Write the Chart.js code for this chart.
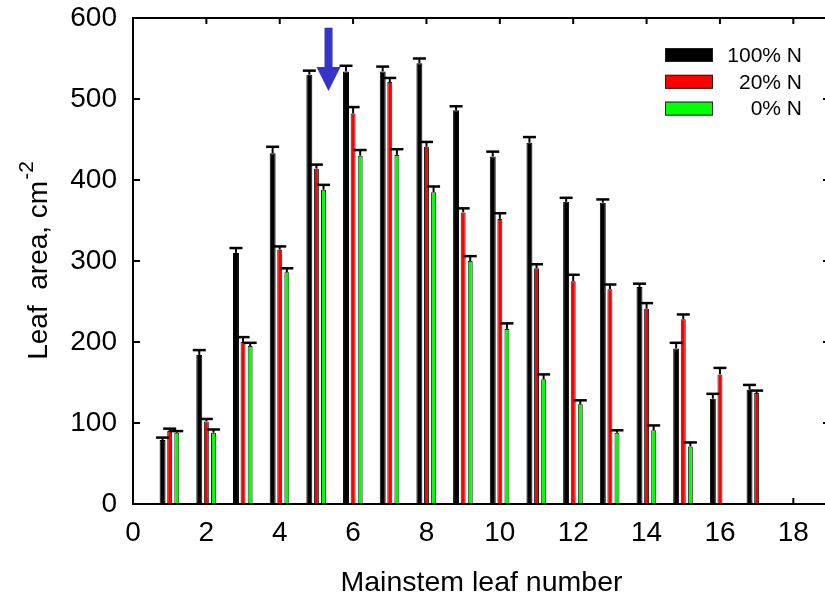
<!DOCTYPE html>
<html>
<head>
<meta charset="utf-8">
<script src="https://cdn.jsdelivr.net/npm/chart.js@4.4.1/dist/chart.umd.min.js"></script>
<style>
  html, body { margin: 0; padding: 0; background: #fff; overflow: hidden; }
  #wrap { width: 830px; height: 600px; }
</style>
</head>
<body>
<div id="wrap"><canvas id="leafChart" width="830" height="600"></canvas></div>
<script>
// DATA
const leafNumbers = [1, 2, 3, 4, 5, 6, 7, 8, 9, 10, 11, 12, 13, 14, 15, 16, 17];
const seriesLabels = ['100% N', '20% N', '0% N'];
const area100 = [79, 184, 310, 433, 530, 534, 534, 544, 486, 429, 446, 373, 372, 268, 192, 130, 141];
const err100  = [3, 6, 6, 8, 5, 7, 6, 6, 5, 6, 7, 5, 4, 4, 7, 6, 6];
const area20  = [90, 102, 200, 314, 414, 482, 521, 441, 360, 352, 291, 275, 265, 241, 228, 160, 137];
const err20   = [3, 3, 6, 4, 5, 8, 5, 6, 5, 7, 5, 8, 6, 7, 6, 8, 3];
const area0   = [88, 88, 195, 286, 388, 430, 431, 385, 300, 216, 154, 123, 88, 91, 71, null, null];
const err0    = [2, 4, 4, 5, 6, 7, 7, 7, 6, 7, 6, 5, 3, 6, 5, null, null];
const xTicks = [0, 2, 4, 6, 8, 10, 12, 14, 16, 18];
const yTicks = [0, 100, 200, 300, 400, 500, 600];
// blue arrow marker (leaf number, from value, to value)
const arrowX = 5.33;
const arrowFrom = 588;
const arrowTo = 510;

const FONT = "'Liberation Sans', Arial, sans-serif";

function points(vals) {
    return leafNumbers.map((n, i) => ({ x: n, y: vals[i] }));
}

const errorsBySeries = [err100, err20, err0];

// error bars (upper only) with caps
const errorBarPlugin = {
    id: 'errorBars',
    afterDatasetsDraw(chart) {
        const ctx = chart.ctx;
        const yScale = chart.scales.y;
        ctx.save();
        ctx.strokeStyle = '#000';
        chart.data.datasets.forEach((ds, di) => {
            const meta = chart.getDatasetMeta(di);
            const errs = errorsBySeries[di];
            meta.data.forEach((bar, i) => {
                const v = ds.data[i].y;
                if (v == null || errs[i] == null) return;
                const yTop = yScale.getPixelForValue(v + errs[i]);
                const yBar = yScale.getPixelForValue(v);
                ctx.lineWidth = 2;
                ctx.beginPath();
                ctx.moveTo(bar.x, yBar);
                ctx.lineTo(bar.x, yTop);
                ctx.stroke();
                ctx.lineWidth = 2.5;
                ctx.beginPath();
                ctx.moveTo(bar.x - 6.5, yTop);
                ctx.lineTo(bar.x + 6.5, yTop);
                ctx.stroke();
            });
        });
        ctx.restore();
    }
};

// frame + inward ticks
const framePlugin = {
    id: 'frame',
    beforeDatasetsDraw(chart) {
        const { ctx, chartArea: a, scales: { x, y } } = chart;
        ctx.save();
        ctx.strokeStyle = '#000';
        ctx.lineWidth = 2;
        ctx.beginPath();
        xTicks.forEach(t => {
            const px = x.getPixelForValue(t);
            ctx.moveTo(px, a.top); ctx.lineTo(px, a.top + 6);
            ctx.moveTo(px, a.bottom); ctx.lineTo(px, a.bottom - 6);
        });
        yTicks.forEach(t => {
            const py = y.getPixelForValue(t);
            ctx.moveTo(a.left, py); ctx.lineTo(a.left + 7, py);
            ctx.moveTo(a.right, py); ctx.lineTo(a.right - 7, py);
        });
        ctx.stroke();
        ctx.restore();
    },
    afterDraw(chart) {
        const { ctx, chartArea: a, scales: { x, y } } = chart;
        ctx.save();
        ctx.strokeStyle = '#000';
        ctx.lineWidth = 2;
        ctx.strokeRect(a.left, a.top, a.right - a.left, a.bottom - a.top);

        // arrow
        const ax = x.getPixelForValue(arrowX);
        const y0 = y.getPixelForValue(arrowFrom);
        const y1 = y.getPixelForValue(arrowTo);
        const headLen = 24;
        ctx.fillStyle = '#3434c8';
        ctx.fillRect(ax - 4, y0, 8, (y1 - headLen) - y0 + 1);
        ctx.beginPath();
        ctx.moveTo(ax - 12, y1 - headLen);
        ctx.lineTo(ax + 12, y1 - headLen);
        ctx.lineTo(ax, y1);
        ctx.closePath();
        ctx.fill();

        // legend
        ctx.font = '21px ' + FONT;
        ctx.textAlign = 'right';
        ctx.textBaseline = 'middle';
        chart.data.datasets.forEach((ds, i) => {
            const top = 48 + i * 26.8;
            ctx.fillStyle = ds.backgroundColor;
            ctx.fillRect(665, top, 48, 14);
            ctx.lineWidth = 1;
            ctx.strokeStyle = '#222';
            ctx.strokeRect(665.5, top + 0.5, 47, 13);
            ctx.fillStyle = '#000';
            ctx.fillText(ds.label, 802, top + 8);
        });

        // y axis title with superscript
        ctx.translate(47, (a.top + a.bottom) / 2);
        ctx.rotate(-Math.PI / 2);
        ctx.textAlign = 'left';
        ctx.textBaseline = 'alphabetic';
        const main = 'Leaf  area, cm';
        const sup = '-2';
        ctx.font = '28px ' + FONT;
        const wMain = ctx.measureText(main).width;
        ctx.font = '21px ' + FONT;
        const wSup = ctx.measureText(sup).width;
        const start = -(wMain + wSup) / 2;
        ctx.font = '28px ' + FONT;
        ctx.fillText(main, start, 0);
        ctx.font = '21px ' + FONT;
        ctx.fillText(sup, start + wMain + 1, -14);
        ctx.restore();
    }
};

const barData = {
    datasets: [{
        label: seriesLabels[0],
        data: points(area100),
        backgroundColor: '#000000',
        borderColor: '#000000',
        borderWidth: 1,
        barPercentage: 0.84
    }, {
        label: seriesLabels[1],
        data: points(area20),
        backgroundColor: '#ff0000',
        borderColor: '#222222',
        borderWidth: 1,
        barPercentage: 0.7
    }, {
        label: seriesLabels[2],
        data: points(area0),
        backgroundColor: '#00ff00',
        borderColor: '#222222',
        borderWidth: 1,
        barPercentage: 0.7
    }]
};

const barConfig = {
    type: 'bar',
    data: barData,
    options: {
        responsive: false,
        animation: false,
        layout: { padding: { top: 18, left: 0, right: 0, bottom: 0 } },
        datasets: { bar: { categoryPercentage: 0.58 } },
        plugins: {
            legend: { display: false },
            tooltip: { enabled: false }
        },
        scales: {
            x: {
                type: 'linear',
                offset: false,
                min: 0,
                max: 19,
                grid: { display: false, drawTicks: false },
                border: { display: false },
                afterFit: (scale) => {
                    scale.height = 96;
                    scale.paddingLeft = 0;
                    scale.paddingRight = 0;
                },
                ticks: {
                    stepSize: 2,
                    includeBounds: false,
                    padding: 12,
                    color: '#000',
                    font: { family: FONT, size: 28 },
                    maxRotation: 0,
                    callback: (v) => (xTicks.includes(v) ? v : '')
                },
                title: {
                    display: true,
                    text: 'Mainstem leaf number',
                    color: '#000',
                    font: { family: FONT, size: 28.5 },
                    padding: { top: 0, bottom: 0 }
                }
            },
            y: {
                min: 0,
                max: 600,
                grid: { display: false, drawTicks: false },
                border: { display: false },
                afterFit: (scale) => {
                    scale.width = 133;
                    scale.paddingTop = 0;
                    scale.paddingBottom = 0;
                },
                ticks: {
                    stepSize: 100,
                    padding: 16,
                    color: '#000',
                    font: { family: FONT, size: 28 }
                }
            }
        }
    },
    plugins: [framePlugin, errorBarPlugin]
};

function initChart() {
    if (typeof Chart === 'undefined') {
        console.error('Chart.js is not loaded');
        return;
    }
    const canvas = document.getElementById('leafChart');
    new Chart(canvas.getContext('2d'), barConfig);
}

if (document.readyState === 'loading') {
    document.addEventListener('DOMContentLoaded', initChart);
} else {
    initChart();
}
</script>
</body>
</html>
